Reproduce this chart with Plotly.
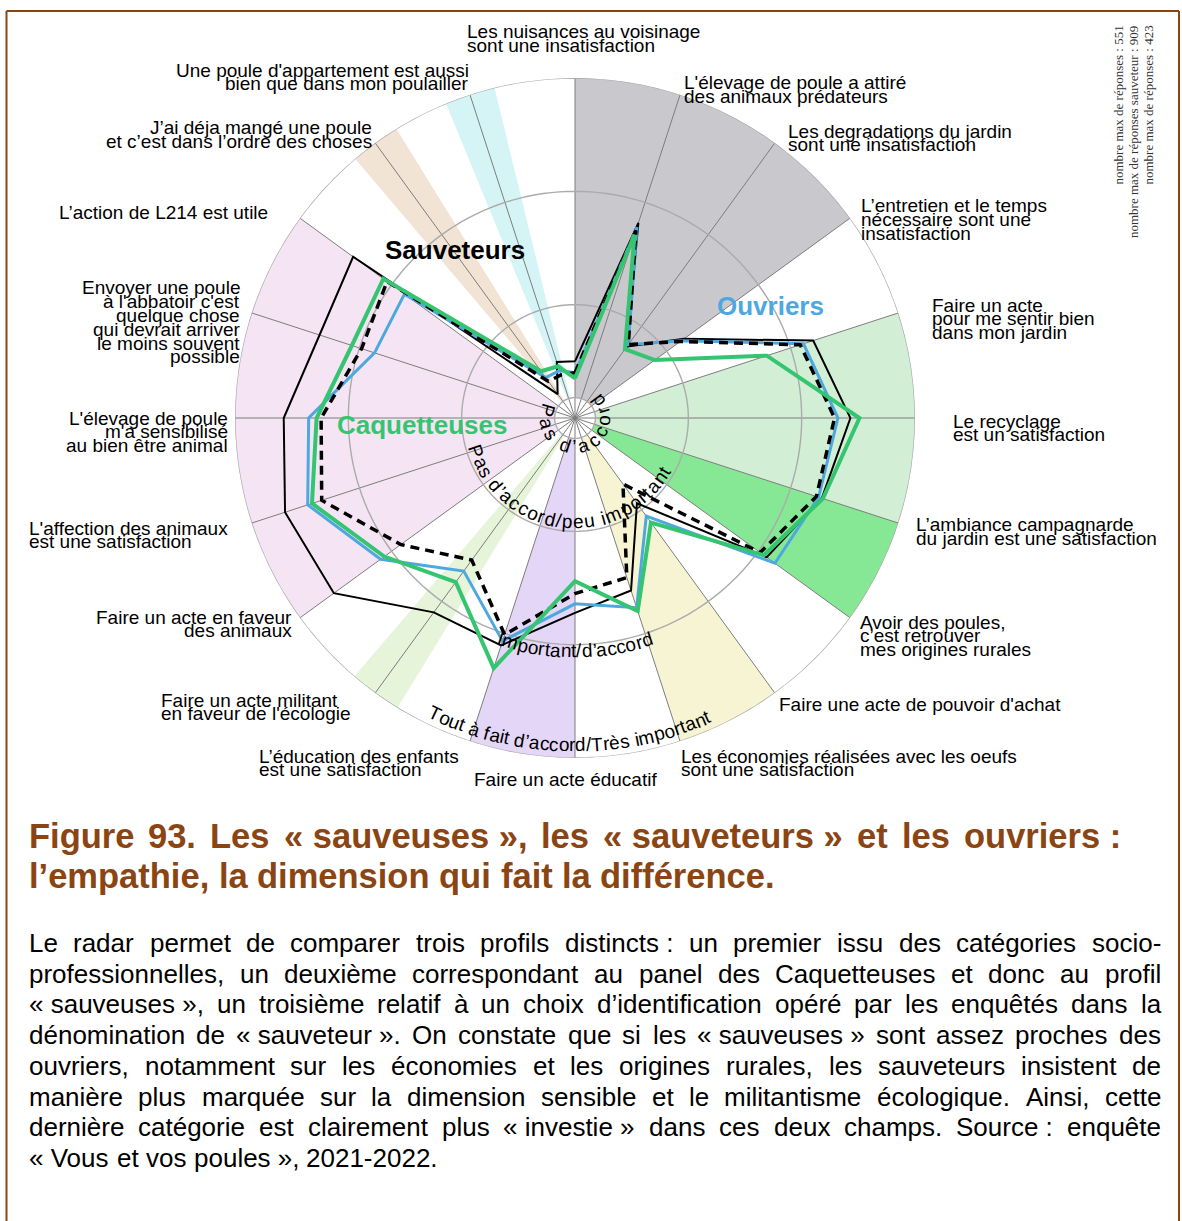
import math
import plotly.graph_objects as go

W, H = 1182, 1221
CX, CY, R = 575, 418, 340      # centre et rayon du radar (px)
RMAX = 3                        # graduation extérieure
FONT = 'Liberation Sans, Arial, sans-serif'
BROWN = '#8b4513'
BLUE = '#4ea8e0'
GREEN = '#35c46f'

categories = [
    "Les nuisances au voisinage\nsont une insatisfaction",
    "L'élevage de poule a attiré\ndes animaux prédateurs",
    "Les degradations du jardin\nsont une insatisfaction",
    "L’entretien et le temps\nnécessaire sont une\ninsatisfaction",
    "Faire un acte\npour me sentir bien\ndans mon jardin",
    "Le recyclage\nest un satisfaction",
    "L’ambiance campagnarde\ndu jardin est une satisfaction",
    "Avoir des poules,\nc’est retrouver\nmes origines rurales",
    "Faire une acte de pouvoir d'achat",
    "Les économies réalisées avec les oeufs\nsont une satisfaction",
    "Faire un acte éducatif",
    "L’éducation des enfants\nest une satisfaction",
    "Faire un acte militant\nen faveur de l'écologie",
    "Faire un acte en faveur\ndes animaux",
    "L'affection des animaux\nest une satisfaction",
    "L'élevage de poule\nm'a sensibilisé\nau bien être animal",
    "Envoyer une poule\nà l'abbatoir c'est\nquelque chose\nqui devrait arriver\nle moins souvent\npossible",
    "L’action de L214 est utile",
    "J’ai déja mangé une poule\net c’est dans l’ordre des choses",
    "Une poule d'appartement est aussi\nbien que dans mon poulailler",
]
angles = [i * 360 / len(categories) for i in range(len(categories))]

sauveteurs = [0.50, 1.81, 0.78, 1.19, 2.21, 2.43, 2.29, 2.09, 0.93, 1.60,
              1.72, 2.11, 2.12, 2.63, 2.69, 2.57, 2.37, 2.42, 0.26, 0.52]
ouvriers = [0.40, 1.77, 0.80, 1.16, 2.12, 2.32, 2.26, 2.18, 1.07, 1.76,
            1.64, 2.07, 1.67, 2.12, 2.48, 2.35, 1.86, 1.86, 0.44, 0.44]
pointilles = [0.40, 1.74, 0.80, 1.15, 2.09, 2.29, 2.24, 2.02, 0.72, 1.48,
              1.55, 2.01, 1.55, 1.90, 2.35, 2.24, 1.98, 2.05, 0.40, 0.40]
caquetteuses = [0.35, 1.70, 0.75, 0.87, 1.78, 2.51, 2.30, 2.06, 1.14, 1.79,
                1.44, 2.32, 1.79, 2.08, 2.44, 2.28, 2.07, 2.09, 0.51, 0.48]

level_values = [0.18, 1, 2, 3]
level_labels = ["Pas d’accord", "Pas d’accord/peu important",
                "Important/d’accord", "Tout à fait d’accord/Très important"]

series_names = ["Sauveteurs", "Ouvriers", "Caquetteuses"]

notes_text = ["nombre max de réponses : 551",
              "nombre max de réponses sauveteur : 909",
              "nombre max de réponses : 423"]

title_lines = [
    "Figure 93. Les «\u00a0sauveuses\u00a0», les «\u00a0sauveteurs\u00a0» et les ouvriers\u00a0:",
    "l’empathie, la dimension qui fait la différence.",
]
body_lines = [
    "Le radar permet de comparer trois profils distincts\u00a0: un premier issu des catégories socio-",
    "professionnelles, un deuxième correspondant au panel des Caquetteuses et donc au profil",
    "«\u00a0sauveuses\u00a0», un troisième relatif à un choix d’identification opéré par les enquêtés dans la",
    "dénomination de «\u00a0sauveteur\u00a0». On constate que si les «\u00a0sauveuses\u00a0» sont assez proches des",
    "ouvriers, notamment sur les économies et les origines rurales, les sauveteurs insistent de",
    "manière plus marquée sur la dimension sensible et le militantisme écologique. Ainsi, cette",
    "dernière catégorie est clairement plus «\u00a0investie\u00a0» dans ces deux champs. Source\u00a0: enquête",
    "«\u00a0Vous et vos poules\u00a0», 2021-2022.",
]

# secteurs thématiques du fond : (début, fin, couleur), en degrés
sectors = [
    (0, 54, '#c9c8cd'),
    (72, 108, '#d2efd6'),
    (108, 126, '#86e895'),
    (144, 162, '#f6f4d3'),
    (180, 198, '#e3d6f6'),
    (211.5, 220.5, '#e6f4d9'),
    (234, 306, '#f5e4f4'),
    (319.7, 328.3, '#f2e4d4'),
    (337.7, 346.3, '#d5f4f6'),
]

# position des étiquettes (px) : x, y de la 1re ligne, alignement
label_pos = [
    (466, 32, 'left'), (683, 83, 'left'), (787, 131, 'left'), (860, 206, 'left'),
    (931, 305, 'left'), (952, 421, 'left'), (915, 525, 'left'), (859, 622, 'left'),
    (778, 705, 'left'), (680, 756, 'left'), (565, 779, 'center'), (258, 756, 'left'),
    (160, 700, 'left'), (293, 617, 'right'), (28, 528, 'left'), (229, 418, 'right'),
    (241, 288, 'right'), (58, 212, 'left'), (373, 128, 'right'), (470, 70, 'right'),
]


# largeurs Arial / Liberation Sans (unités 1/1000 em)
def _table(groups):
    t = {}
    for chars, w in groups:
        for c in chars:
            t[c] = w
    return t


REG_W = _table([
    ("'", 191), ("ijl’‘", 222), (" \u00a0!,./:;ftIîï", 278), ("-()r", 333),
    ("cksvxyzJç", 500), ("abdeghnopqu0123456789«»?éèêëàâôùûL", 556),
    ("FTZ", 611), ("ABEKPSVXY", 667), ("CDHNRUw", 722), ("GOQ", 778),
    ("mM", 833), ("W", 944),
])
BOLD_W = _table([
    ("'", 238), (" \u00a0,.ijlI/’î", 278), ("-:ft()!", 333), ("r", 389), ("z", 500),
    ("acekvsxyJ0123456789«»éèêàâç?", 556), ("bdghnopquFTLZ", 611),
    ("EPSVXY", 667), ("ABCDHKNRU", 722), ("GOQw", 778), ("M", 833), ("m", 889),
])


def text_w(s, size, bold=False):
    t = BOLD_W if bold else REG_W
    return sum(t.get(c, 556) for c in s) * size / 1000


annotations = []


def note(text, x, y, size=19, xanchor='left', yanchor='middle', color='black',
         angle=0, family=FONT, bold=False):
    annotations.append(dict(
        text=f'<b>{text}</b>' if bold else text,
        x=x / W, y=1 - y / H, xref='paper', yref='paper', showarrow=False,
        xanchor=xanchor, yanchor=yanchor, textangle=angle, borderpad=0,
        font=dict(size=size, color=color, family=family)))


def arc_text(text, r, mid, size=19, spread=1.0):
    """Texte courbé le long d'un cercle, haut des lettres vers le centre."""
    ws = [text_w(c, size) * spread for c in text]
    start = mid + math.degrees(sum(ws) / r) / 2
    acc = 0
    for c, w in zip(text, ws):
        th = start - math.degrees((acc + w / 2) / r)
        acc += w
        if c == ' ':
            continue
        x = CX + r * math.sin(math.radians(th))
        y = CY - r * math.cos(math.radians(th))
        ang = (th - 180 + 180) % 360 - 180
        note(c, x, y, size, 'center', 'middle', angle=ang)


def text_line(line, x0, x1, y, size, bold=False, color='black', justify=True):
    words = line.split(' ')
    ws = [text_w(w, size, bold) for w in words]
    gap = text_w(' ', size, bold)
    if justify and len(words) > 1:
        gap = (x1 - x0 - sum(ws)) / (len(words) - 1)
    x = x0
    for w, wd in zip(words, ws):
        note(w, x, y, size, 'left', color=color, bold=bold)
        x += wd + gap


fig = go.Figure()

# fond : secteurs colorés
for a, b, col in sectors:
    fig.add_trace(go.Barpolar(r=[RMAX], theta=[(a + b) / 2], width=[b - a],
                              marker=dict(color=col, line=dict(width=0)),
                              hoverinfo='skip', showlegend=False))

circle_theta = list(range(0, 361, 2))
# moyeu blanc
fig.add_trace(go.Scatterpolar(r=[level_values[0]] * len(circle_theta), theta=circle_theta,
                              mode='lines', fill='toself', fillcolor='white',
                              line=dict(width=0), hoverinfo='skip', showlegend=False))

# rayons
spoke_r, spoke_t = [], []
for a in angles:
    spoke_r += [0, RMAX, None]
    spoke_t += [a, a, None]
fig.add_trace(go.Scatterpolar(r=spoke_r, theta=spoke_t, mode='lines',
                              line=dict(color='#7d7d7d', width=1),
                              hoverinfo='skip', showlegend=False))

# cercles de graduation
for v in level_values:
    fig.add_trace(go.Scatterpolar(r=[v] * len(circle_theta), theta=circle_theta, mode='lines',
                                  line=dict(color='#ababab', width=1.4),
                                  hoverinfo='skip', showlegend=False))

# séries
series = [
    ("Sauveteurs", sauveteurs, 'black', 2, 'solid'),
    ("Ouvriers", ouvriers, BLUE, 3, 'solid'),
    ("Ensemble", pointilles, 'black', 3.5, '9px,6px'),
    ("Caquetteuses", caquetteuses, GREEN, 4, 'solid'),
]
for name, vals, col, lw, dash in series:
    fig.add_trace(go.Scatterpolar(r=vals + vals[:1], theta=angles + angles[:1],
                                  mode='lines', name=name,
                                  line=dict(color=col, width=lw, dash=dash),
                                  showlegend=False))

# étiquettes des catégories
for label, (x, y, align) in zip(categories, label_pos):
    for j, part in enumerate(label.split('\n')):
        note(part, x, y + j * 13.8, 19, align)

# libellés de l'échelle, courbés
arc_text(level_labels[0], 29, 171, 19, 1.2)
arc_text(level_labels[1], 104, 187, 19, 1.07)
arc_text(level_labels[2], 233, 180, 19)
arc_text(level_labels[3], 327, 181, 19)

# noms des profils
for name, (x, y, col) in zip(series_names, [(455, 250, 'black'), (770, 306, BLUE),
                                            (422, 425, GREEN)]):
    note(name, x, y, 26, 'center', color=col, bold=True)

# notes verticales
for t, x in zip(notes_text, [1118, 1133, 1148]):
    note(t, x, 25, 13, 'center', 'top', color='#333333', angle=-90,
         family='Liberation Serif, Times New Roman, serif')

# légende de la figure
text_line(title_lines[0], 28, 1120, 836, 34.5, bold=True, color=BROWN)
text_line(title_lines[1], 28, 1120, 876, 34.5, bold=True, color=BROWN, justify=False)
for i, line in enumerate(body_lines):
    text_line(line, 28, 1160, 943 + i * 30.7, 26, justify=i < len(body_lines) - 1)

frame = dict(type='line', xref='paper', yref='paper', line=dict(color=BROWN, width=2))
fig.update_layout(
    width=W, height=H,
    margin=dict(l=0, r=0, t=0, b=0),
    paper_bgcolor='white',
    showlegend=False,
    annotations=annotations,
    shapes=[
        dict(frame, x0=6.5 / W, x1=6.5 / W, y0=0, y1=1 - 11 / H),
        dict(frame, x0=1179 / W, x1=1179 / W, y0=0, y1=1 - 11 / H),
        dict(frame, x0=6.5 / W, x1=1179 / W, y0=1 - 11 / H, y1=1 - 11 / H),
    ],
    polar=dict(
        domain=dict(x=[(CX - R) / W, (CX + R) / W], y=[1 - (CY + R) / H, 1 - (CY - R) / H]),
        bgcolor='white',
        barmode='overlay',
        radialaxis=dict(range=[0, RMAX], visible=False),
        angularaxis=dict(rotation=90, direction='clockwise', thetaunit='degrees',
                         showgrid=False, showline=False, showticklabels=False, ticks=''),
    ),
)

fig.write_html("out.html", config={'displayModeBar': False},
               post_script="document.body.style.margin='0';document.body.style.overflow='hidden';")
